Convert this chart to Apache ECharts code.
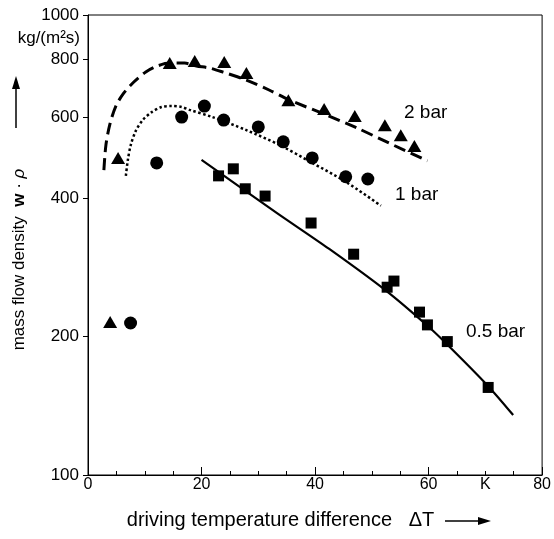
<!DOCTYPE html>
<html>
<head>
<meta charset="utf-8">
<script src="https://cdn.jsdelivr.net/npm/echarts@6/dist/echarts.min.js"></script>
<style>
  html, body { margin: 0; padding: 0; background: #fff; }
  #chart { width: 554px; height: 539px; }
</style>
</head>
<body>
<div id="chart"></div>
<script>
// measured points, 2 bar (triangles)
var triX = [3.9, 5.3, 14.4, 18.8, 24.0, 27.9, 35.3, 41.6, 47.0, 52.3, 55.1, 57.5];
var triY = [215, 489, 786, 794, 790, 748, 653, 625, 603, 576, 548, 519];
// 1 bar (circles)
var circX = [7.5, 12.1, 16.5, 20.5, 23.9, 30.0, 34.4, 39.5, 45.4, 49.3];
var circY = [214, 477, 600, 634, 591, 571, 530, 489, 445, 440];
// 0.5 bar (squares)
var sqX = [23.0, 25.6, 27.7, 31.2, 39.3, 46.8, 52.7, 53.9, 58.4, 59.8, 63.3, 70.5];
var sqY = [447, 463, 419, 404, 353, 302, 256, 264, 226, 212, 195, 155];

// fitted curves
var fit2X = [2.8, 3.16, 3.86, 4.91, 6.32, 8.07, 10.18, 12.28, 14.39, 17.02, 19.1, 21.4, 23.7, 27.9, 31.9, 35.4, 41.6, 47.4, 53.0, 59.8];
var fit2Y = [460, 522, 579, 634, 677, 715, 752, 775, 786, 786, 775, 767, 752, 722, 687, 654, 609, 568, 527, 482];
var fit1X = [6.67, 7.02, 7.54, 8.42, 9.65, 11.23, 12.98, 14.74, 16.49, 17.9, 21.9, 27.9, 33.7, 39.5, 45.4, 51.6];
var fit1Y = [447, 484, 522, 560, 591, 615, 631, 634, 631, 622, 600, 562, 522, 477, 434, 385];
var fit05X = [20.0, 33.3, 42.5, 52.6, 60.0, 63.5, 70.5, 74.9];
var fit05Y = [484, 371, 310, 251, 210, 191, 156, 135];

// axis ticks
var xLabelValues = [0, 20, 40, 60, 70, 80];
var xTickValues = [0, 20, 40, 60, 80];
var yTickValues = [100, 200, 400, 600, 800, 1000];

function pairs(xs, ys) {
  return xs.map(function (x, i) { return [x, ys[i]]; });
}

var chart = echarts.init(document.getElementById('chart'));
var font = '"Liberation Sans", Arial, sans-serif';

var option = {
  animation: false,
  textStyle: { fontFamily: font, color: '#000' },
  grid: {
    left: 88, right: 10, top: 15, bottom: 64,
    show: true, borderColor: '#000', borderWidth: 1
  },
  xAxis: {
    type: 'value', min: 0, max: 80, interval: 20,
    name: 'driving temperature difference   ΔT',
    nameLocation: 'middle', nameGap: 35,
    nameTextStyle: { fontSize: 20, color: '#000', fontFamily: font, padding: [0, 69, 0, 0] },
    axisLine: { lineStyle: { color: '#000', width: 1 } },
    axisTick: { inside: true, length: 8, customValues: xTickValues, lineStyle: { color: '#000' } },
    minorTick: { show: true, splitNumber: 4, length: 4, lineStyle: { color: '#000' } },
    axisLabel: {
      customValues: xLabelValues, fontSize: 16, color: '#000', margin: 2,
      formatter: function (v) { return v === 70 ? 'K' : String(v); }
    },
    splitLine: { show: false }
  },
  yAxis: {
    type: 'log', logBase: 10, min: 100, max: 1000,
    name: 'mass flow density  {b|w} · {i|ρ}',
    nameLocation: 'middle', nameGap: 60, nameRotate: 90,
    nameTextStyle: { fontSize: 17, color: '#000', fontFamily: font, padding: [0, 29, 0, 0],
      rich: {
        b: { fontSize: 17, fontWeight: 'bold', fontFamily: font },
        i: { fontSize: 17, fontStyle: 'italic', fontFamily: font }
      } },
    axisLine: { show: true, lineStyle: { color: '#000', width: 1 } },
    axisTick: { show: true, inside: false, length: 5, customValues: yTickValues, lineStyle: { color: '#000' } },
    axisLabel: {
      customValues: yTickValues, fontSize: 17, color: '#000', margin: 9,
      formatter: function (v) { return String(Math.round(v)); }
    },
    splitLine: { show: false },
    minorTick: { show: false }
  },
  graphic: [
    { type: 'text', right: 554 - 80, top: 30, style: { text: 'kg/(m²s)', font: '17px ' + font, fill: '#000' } },
    { type: 'text', left: 404, top: 103, style: { text: '2 bar', font: '19px ' + font, fill: '#000' } },
    { type: 'text', left: 395, top: 185, style: { text: '1 bar', font: '19px ' + font, fill: '#000' } },
    { type: 'text', left: 466, top: 322, style: { text: '0.5 bar', font: '19px ' + font, fill: '#000' } },
    // axis-name arrows
    { type: 'line', shape: { x1: 16, y1: 128, x2: 16, y2: 86 }, style: { stroke: '#000', lineWidth: 1.5 } },
    { type: 'polygon', shape: { points: [[16, 76], [12, 89], [20, 89]] }, style: { fill: '#000' } },
    { type: 'line', shape: { x1: 445, y1: 521, x2: 481, y2: 521 }, style: { stroke: '#000', lineWidth: 1.5 } },
    { type: 'polygon', shape: { points: [[491, 521], [478, 517], [478, 525]] }, style: { fill: '#000' } }
  ],
  series: [
    {
      type: 'line', data: pairs(fit2X, fit2Y), showSymbol: false, smooth: 0.3,
      lineStyle: { color: '#000', width: 3, type: [12, 6] }, z: 2
    },
    {
      type: 'line', data: pairs(fit1X, fit1Y), showSymbol: false, smooth: 0.3,
      lineStyle: { color: '#000', width: 2.5, type: [2.5, 2.5] }, z: 2
    },
    {
      type: 'line', data: pairs(fit05X, fit05Y), showSymbol: false, smooth: 0.3,
      lineStyle: { color: '#000', width: 2.2 }, z: 2
    },
    {
      type: 'scatter', data: pairs(triX, triY), symbol: 'triangle', symbolSize: [14, 12],
      itemStyle: { color: '#000', opacity: 1 }, z: 3
    },
    {
      type: 'scatter', data: pairs(circX, circY), symbol: 'circle', symbolSize: 13,
      itemStyle: { color: '#000', opacity: 1 }, z: 3
    },
    {
      type: 'scatter', data: pairs(sqX, sqY), symbol: 'rect', symbolSize: 11,
      itemStyle: { color: '#000', opacity: 1 }, z: 3
    }
  ]
};
chart.setOption(option);
</script>
</body>
</html>
